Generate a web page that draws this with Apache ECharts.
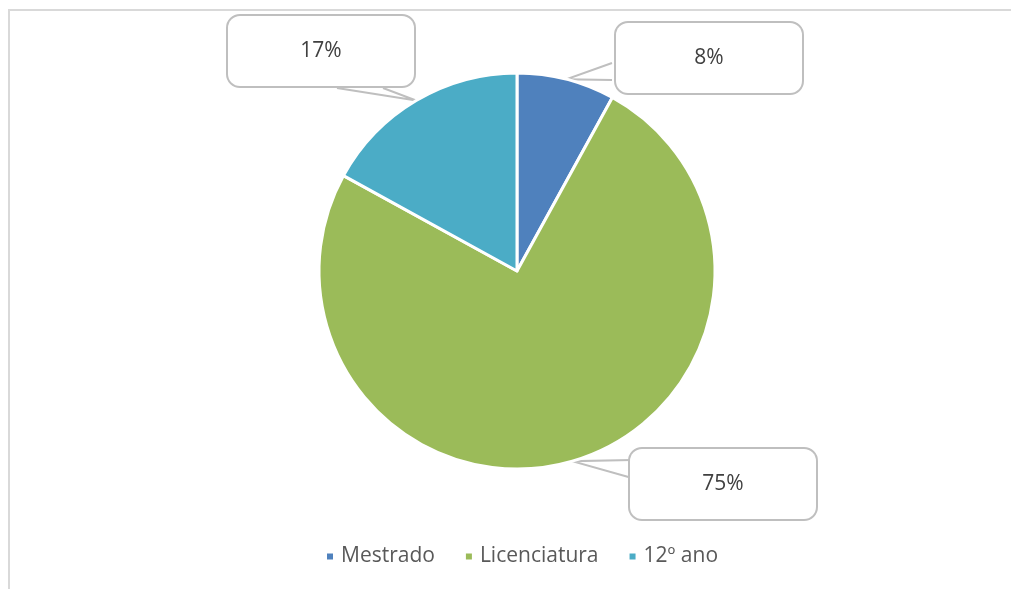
<!DOCTYPE html>
<html>
<head>
<meta charset="utf-8">
<script src="https://cdn.jsdelivr.net/npm/echarts@6/dist/echarts.min.js"></script>
<style>
  html, body { margin: 0; padding: 0; background: #fff; }
  #frame { position: absolute; left: 8px; top: 9px; width: 1003px; height: 580px;
           border-top: 2px solid #d9d9d9; border-left: 2px solid #d9d9d9; }
  #chart { position: absolute; left: 0; top: 0; width: 1011px; height: 589px; }
</style>
</head>
<body>
<div id="frame"></div>
<div id="chart"></div>
<script>
let categories = ["Mestrado", "Licenciatura", "12º ano"];
let values = [8, 75, 17];
let colors = ["#4F81BD", "#9BBB59", "#4BACC6"];

// callout boxes: centre of box, and where the pointer leaves the box
let boxes = [
  { cx: 709, cy: 58, base: [[612, 63], [612, 80]] },
  { cx: 723, cy: 484, base: [[632, 460], [632, 478]] },
  { cx: 321, cy: 51, base: [[337, 88], [383, 88]] }
];

let chart = echarts.init(document.getElementById("chart"));

let data = categories.map((c, i) => ({
  name: c,
  value: values[i],
  itemStyle: { color: colors[i] }
}));

chart.setOption({
  animation: false,
  legend: {
    bottom: 17,
    left: 320,
    icon: "rect",
    itemWidth: 8,
    itemHeight: 8,
    itemGap: 29,
    textStyle: { fontFamily: "Open Sans", fontSize: 21, color: "#595959", padding: [0, 0, 0, 2] },
    data: categories
  },
  series: [{
    type: "pie",
    center: [517, 271],
    radius: 198,
    startAngle: 90,
    clockwise: true,
    data: data,
    itemStyle: { borderColor: "#fff", borderWidth: 3 },
    emphasis: { disabled: true },
    label: {
      show: true,
      formatter: "{d}%",
      fontFamily: "Open Sans",
      fontSize: 21,
      color: "#404040",
      backgroundColor: "#fff",
      borderColor: "#bfbfbf",
      borderWidth: 2,
      borderRadius: 12,
      width: 186,
      height: 70,
      lineHeight: 70,
      align: "center",
      verticalAlign: "middle"
    },
    labelLine: {
      show: true,
      lineStyle: { color: "#bfbfbf", width: 2 }
    },
    labelLayout: function (params) {
      let b = boxes[params.dataIndex];
      let tip = params.labelLinePoints ? params.labelLinePoints[0] : null;
      let out = { x: b.cx, y: b.cy, align: "center", verticalAlign: "middle" };
      if (tip) out.labelLinePoints = [b.base[0], tip, b.base[1]];
      return out;
    }
  }]
});
</script>
</body>
</html>
